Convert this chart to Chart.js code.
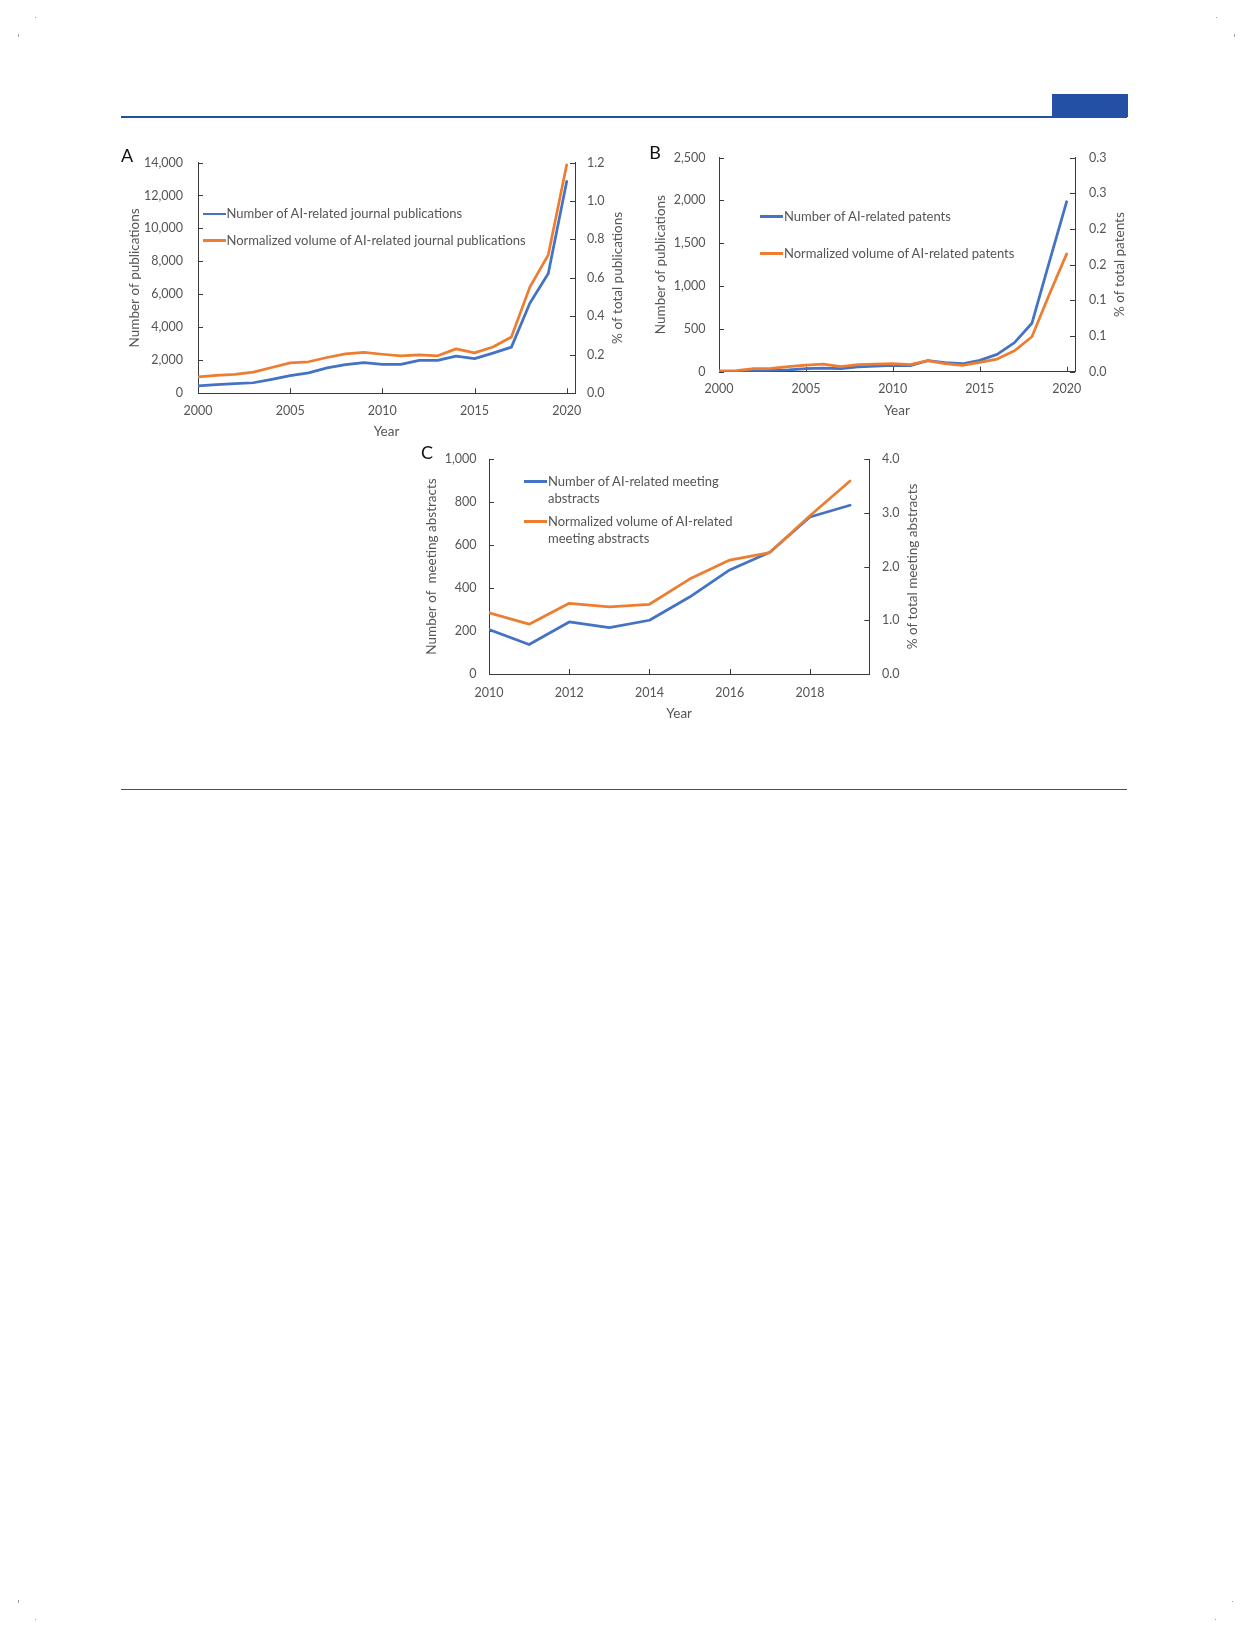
<!DOCTYPE html>
<html>
<head>
<meta charset="utf-8">
<title>AI-related journal publications, patents and meeting abstracts</title>
<script src="https://cdn.jsdelivr.net/npm/chart.js@4.4.1/dist/chart.umd.min.js"></script>
<style>
  html, body { margin:0; padding:0; background:#fff; }
  #page { position:relative; width:1252px; height:1638px; overflow:hidden; background:#fff;
          font-family: Lato, "Liberation Sans", Arial, sans-serif; }
  .rule { position:absolute; background:#2350a5; }
  .mark { position:absolute; background:#a0a0a0; }
  canvas { position:absolute; z-index:1; }
  .panel { position:absolute; z-index:2; font-size:18px; line-height:18px; color:#111;
           transform:translate(-50%,-50%); }
  .legend-row { position:absolute; z-index:2; font-size:13px; line-height:17.6px; color:#555;
                padding-left:24px; }
  .legend-row .sw { position:absolute; left:0; top:7.5px; width:23px; height:2.75px; }
</style>
</head>
<body>
<div id="page">
  <div class="rule" style="left:121px;top:116px;width:1006px;height:2px;"></div>
  <div class="rule" style="left:1052px;top:94px;width:76px;height:23px;"></div>
  <div class="rule" style="left:121px;top:789px;width:1006px;height:1px;background:#2b4f9c;"></div>
  <div class="mark" style="left:35px;top:17px;width:1px;height:1px;"></div>
  <div class="mark" style="left:18px;top:34px;width:1px;height:3px;"></div>
  <div class="mark" style="left:1216px;top:17px;width:1px;height:1px;"></div>
  <div class="mark" style="left:1234px;top:34px;width:1px;height:3px;"></div>
  <div class="mark" style="left:18px;top:1600px;width:1px;height:3px;"></div>
  <div class="mark" style="left:35px;top:1619px;width:1px;height:1px;"></div>
  <div class="mark" style="left:1232px;top:1601px;width:1px;height:1px;"></div>
  <div class="mark" style="left:1215px;top:1619px;width:1px;height:1px;"></div>
  <canvas id="chartA"></canvas>
  <canvas id="chartB"></canvas>
  <canvas id="chartC"></canvas>
  <div class="panel" style="left:127px;top:155px;">A</div>
  <div class="panel" style="left:655px;top:152px;">B</div>
  <div class="panel" style="left:427px;top:452px;">C</div>
</div>
<script>
// ---------------- data ----------------
const yearsA = [2000,2001,2002,2003,2004,2005,2006,2007,2008,2009,2010,2011,2012,2013,2014,2015,2016,2017,2018,2019,2020];
const journalCounts = [450,530,580,640,850,1070,1240,1540,1740,1860,1760,1760,2000,2000,2260,2100,2440,2800,5460,7270,12850];
const journalShare = [0.086,0.093,0.098,0.110,0.134,0.158,0.164,0.186,0.205,0.213,0.203,0.195,0.200,0.195,0.231,0.210,0.241,0.293,0.552,0.720,1.188];

const yearsB = [2000,2001,2002,2003,2004,2005,2006,2007,2008,2009,2010,2011,2012,2013,2014,2015,2016,2017,2018,2019,2020];
const patentCounts = [2,3,8,16,20,35,43,35,55,66,74,70,128,105,93,132,202,340,565,1280,1984];
const patentShare = [0.001,0.0014,0.0042,0.0047,0.007,0.0093,0.0107,0.007,0.0098,0.0107,0.0112,0.0098,0.0154,0.0112,0.0089,0.013,0.0177,0.0294,0.049,0.108,0.165];

const yearsC = [2010,2011,2012,2013,2014,2015,2016,2017,2018,2019];
const meetingCounts = [207,137,242,216,250,358,484,566,730,785];
const meetingShare = [1.14,0.927,1.316,1.25,1.297,1.766,2.12,2.26,2.945,3.59];

const seriesNamesA = ['Number of AI-related journal publications', 'Normalized volume of AI-related journal publications'];
const seriesNamesB = ['Number of AI-related patents', 'Normalized volume of AI-related patents'];
const seriesNamesC = ['Number of AI-related meeting abstracts', 'Normalized volume of AI-related meeting abstracts'];

const xTicksA = [2000,2005,2010,2015,2020];
const xTicksB = [2000,2005,2010,2015,2020];
const xTicksC = [2010,2012,2014,2016,2018];
const leftTicksA = [0,2000,4000,6000,8000,10000,12000,14000];
const rightTicksA = [0,0.2,0.4,0.6,0.8,1.0,1.2];
const rightLabelsA = ['0.0','0.2','0.4','0.6','0.8','1.0','1.2'];
const leftTicksB = [0,500,1000,1500,2000,2500];
const rightTicksB = [0,0.05,0.1,0.15,0.2,0.25,0.3];
const rightLabelsB = ['0.0','0.1','0.1','0.2','0.2','0.3','0.3'];
const leftTicksC = [0,200,400,600,800,1000];
const rightTicksC = [0,1,2,3,4];
const rightLabelsC = ['0.0','1.0','2.0','3.0','4.0'];

const axisTitlesA = ['Year', 'Number of publications', '% of total publications'];
const axisTitlesB = ['Year', 'Number of publications', '% of total patents'];
const axisTitlesC = ['Year', 'Number of  meeting abstracts', '% of total meeting abstracts'];

// ---------------- styling ----------------
const FONT_FAMILY = 'Lato, "Liberation Sans", Arial, sans-serif';
const TEXT = '#555555', AXIS = '#3a3a3a', BLUE = '#4472C4', ORANGE = '#ED7D31';
const TICK_SIZE = 12.5, TITLE_SIZE = 13.5, LINE_H = 1.2;

const innerTicks = {
  id: 'innerTicks',
  beforeDatasetsDraw(chart) {
    const {ctx, chartArea: a} = chart;
    const len = 5;
    ctx.save();
    ctx.strokeStyle = AXIS; ctx.lineWidth = 1;
    ctx.beginPath();
    Object.values(chart.scales).forEach(s => {
      s.ticks.forEach(t => {
        const q = Math.round(s.getPixelForValue(t.value)) + 0.5;
        if (s.axis === 'x') { ctx.moveTo(q, a.bottom); ctx.lineTo(q, a.bottom - len); }
        else if (s.position === 'left') { ctx.moveTo(a.left, q); ctx.lineTo(a.left + len, q); }
        else { ctx.moveTo(a.right, q); ctx.lineTo(a.right - len, q); }
      });
    });
    ctx.stroke();
    ctx.restore();
  }
};

const upTitle = {
  id: 'upTitle',
  afterDraw(chart, args, opts) {
    const s = chart.scales.y2;
    const {ctx, chartArea: a} = chart;
    ctx.save();
    ctx.translate(opts.x, (a.top + a.bottom) / 2);
    ctx.rotate(-Math.PI / 2);
    ctx.font = TITLE_SIZE + 'px ' + FONT_FAMILY;
    ctx.fillStyle = TEXT;
    ctx.textAlign = 'center';
    ctx.textBaseline = 'middle';
    ctx.fillText(s.options.title.text, 0, 0);
    ctx.restore();
  }
};

function buildPanel(p) {
  const c = document.getElementById(p.id);
  c.width = p.box.w; c.height = p.box.h;
  Object.assign(c.style, {left: p.box.x + 'px', top: p.box.y + 'px', width: p.box.w + 'px', height: p.box.h + 'px'});
  const lh = TITLE_SIZE * LINE_H;
  const wl = p.plot.l - p.box.x;
  const wr = p.rightWidth;
  const padRight = p.box.x + p.box.w - p.plot.r - wr;
  const hb = p.box.y + p.box.h - p.plot.b;
  const tickFont = {family: FONT_FAMILY, size: TICK_SIZE, lineHeight: LINE_H};
  const titleFont = {family: FONT_FAMILY, size: TITLE_SIZE, lineHeight: LINE_H};
  const pts = (xs, ys) => xs.map((x, i) => ({x: x, y: ys[i]}));
  const gridOff = {display: true, drawOnChartArea: false, drawTicks: false};
  const border = {display: true, color: AXIS, width: 1};
  const line = {borderWidth: 2.75, pointRadius: 0, tension: 0, borderJoinStyle: 'round', borderCapStyle: 'round'};
  const chart = new Chart(c, {
    type: 'line',
    data: {
      datasets: [
        Object.assign({label: p.names[0], data: pts(p.years, p.counts), yAxisID: 'y', borderColor: BLUE, backgroundColor: BLUE, order: 2}, line),
        Object.assign({label: p.names[1], data: pts(p.years, p.share), yAxisID: 'y2', borderColor: ORANGE, backgroundColor: ORANGE, order: 1}, line)
      ]
    },
    options: {
      responsive: false, animation: false, devicePixelRatio: window.devicePixelRatio || 1,
      layout: {padding: {left: 0, top: p.plot.t - p.box.y, right: padRight, bottom: 0}},
      plugins: {legend: {display: false}, tooltip: {enabled: false}, upTitle: {x: p.titles.right - p.box.x}},
      scales: {
        x: {
          type: 'linear', position: 'bottom', min: p.xMin, max: p.xMax,
          afterBuildTicks: s => { s.ticks = p.xTicks.map(v => ({value: v})); },
          afterFit: s => { s.height = hb; },
          grid: gridOff, border: border,
          ticks: {color: TEXT, font: tickFont, padding: p.xLabelPad, maxRotation: 0, autoSkip: false, callback: v => String(v)},
          title: {display: true, text: p.axisTitles[0], color: TEXT, font: titleFont,
                  padding: {top: 0, bottom: hb - (p.titles.year - p.plot.b) - lh / 2}}
        },
        y: {
          position: 'left', min: p.leftTicks[0], max: p.leftTicks[p.leftTicks.length - 1],
          afterBuildTicks: s => { s.ticks = p.leftTicks.map(v => ({value: v})); },
          afterFit: s => { s.width = wl; },
          grid: gridOff, border: border,
          ticks: {color: TEXT, font: tickFont, padding: p.leftLabelPad, callback: v => v.toLocaleString('en-US')},
          title: {display: true, text: p.axisTitles[1], color: TEXT, font: titleFont,
                  padding: {top: p.titles.left - p.box.x - lh / 2, bottom: 0}}
        },
        y2: {
          position: 'right', min: p.rightTicks[0], max: p.rightTicks[p.rightTicks.length - 1],
          afterBuildTicks: s => { s.ticks = p.rightTicks.map(v => ({value: v})); },
          afterFit: s => { s.width = wr; },
          grid: gridOff, border: border,
          ticks: {color: TEXT, font: tickFont, padding: p.rightLabelPad, callback: (v, i) => p.rightLabels[i]},
          title: {display: false, text: p.axisTitles[2]}
        }
      }
    },
    plugins: [innerTicks, upTitle]
  });
  // HTML legend built from the chart's datasets
  const page = document.getElementById('page');
  chart.data.datasets.forEach((ds, i) => {
    const row = document.createElement('div');
    row.className = 'legend-row';
    row.style.left = p.legend.x + 'px';
    row.style.top = (p.legend.rows[i] - 8.8) + 'px';
    if (p.legend.width) row.style.width = p.legend.width + 'px';
    const sw = document.createElement('span');
    sw.className = 'sw';
    sw.style.background = ds.borderColor;
    row.appendChild(sw);
    row.appendChild(document.createTextNode(ds.label));
    page.appendChild(row);
  });
  return chart;
}

buildPanel({
  id: 'chartA', years: yearsA, counts: journalCounts, share: journalShare, names: seriesNamesA,
  xTicks: xTicksA, leftTicks: leftTicksA, rightTicks: rightTicksA, rightLabels: rightLabelsA, axisTitles: axisTitlesA,
  xMin: 2000, xMax: 2020.45,
  box: {x: 100, y: 140, w: 560, h: 310}, plot: {l: 198, t: 160.7, r: 575, b: 393.3}, rightWidth: 60,
  leftLabelPad: 15, rightLabelPad: 12, xLabelPad: 10,
  titles: {left: 135, right: 617.3, year: 431.7},
  legend: {x: 202.5, rows: [214, 240.3]}
});
buildPanel({
  id: 'chartB', years: yearsB, counts: patentCounts, share: patentShare, names: seriesNamesB,
  xTicks: xTicksB, leftTicks: leftTicksB, rightTicks: rightTicksB, rightLabels: rightLabelsB, axisTitles: axisTitlesB,
  xMin: 2000, xMax: 2020.48,
  box: {x: 640, y: 130, w: 600, h: 300}, plot: {l: 719, t: 157.5, r: 1075, b: 371.7}, rightWidth: 65,
  leftLabelPad: 13.4, rightLabelPad: 14, xLabelPad: 10,
  titles: {left: 660.7, right: 1119.5, year: 411},
  legend: {x: 760, rows: [216.7, 253.3]}
});
buildPanel({
  id: 'chartC', years: yearsC, counts: meetingCounts, share: meetingShare, names: seriesNamesC,
  xTicks: xTicksC, leftTicks: leftTicksC, rightTicks: rightTicksC, rightLabels: rightLabelsC, axisTitles: axisTitlesC,
  xMin: 2010, xMax: 2019.48,
  box: {x: 400, y: 430, w: 560, h: 300}, plot: {l: 489, t: 459, r: 869.3, b: 674}, rightWidth: 70,
  leftLabelPad: 12.5, rightLabelPad: 12.7, xLabelPad: 11,
  titles: {left: 432, right: 912.7, year: 713.3},
  legend: {x: 524, rows: [481.7, 521.7], width: 192}
});
</script>
</body>
</html>
